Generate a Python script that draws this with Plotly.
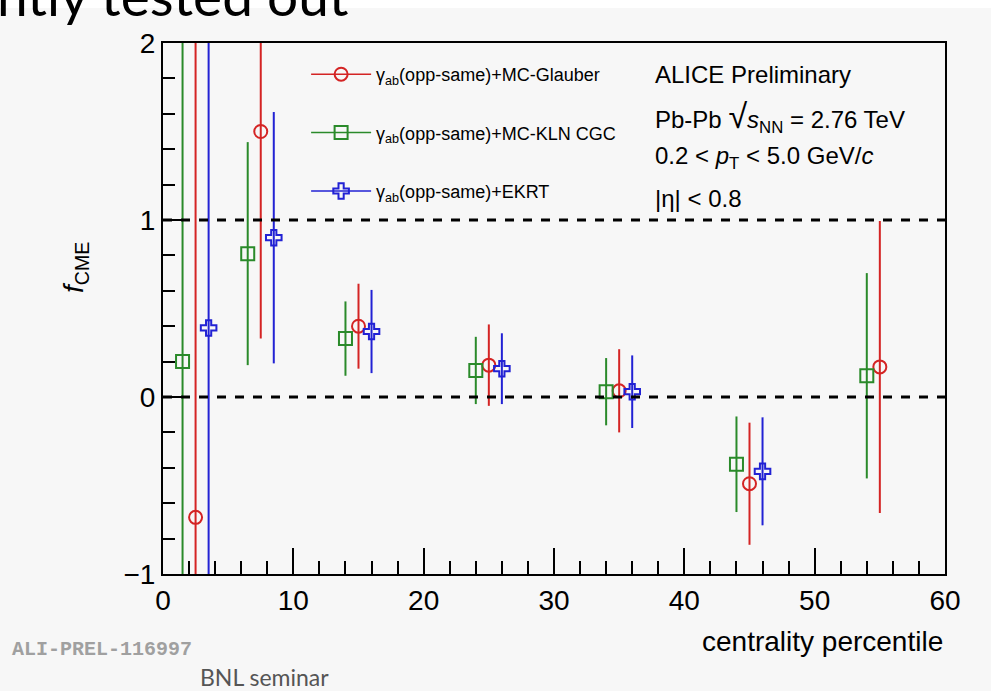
import plotly.graph_objects as go

# ---- data ----
cent_glauber = [2.5, 7.5, 15, 25, 35, 45, 55]
f_glauber = [-0.68, 1.50, 0.40, 0.18, 0.035, -0.49, 0.17]
err_glauber = [3.0, 1.17, 0.24, 0.23, 0.235, 0.345, 0.825]

cent_kln = [1.5, 6.5, 14, 24, 34, 44, 54]
f_kln = [0.20, 0.81, 0.33, 0.15, 0.03, -0.38, 0.12]
err_kln = [2.5, 0.63, 0.21, 0.19, 0.19, 0.27, 0.58]

cent_ekrt = [3.5, 8.5, 16, 26, 36, 46]
f_ekrt = [0.39, 0.90, 0.37, 0.16, 0.03, -0.42]
err_ekrt = [2.5, 0.71, 0.235, 0.20, 0.205, 0.305]

names = ["γ<sub>ab</sub>(opp-same)+MC-Glauber",
         "γ<sub>ab</sub>(opp-same)+MC-KLN CGC",
         "γ<sub>ab</sub>(opp-same)+EKRT"]
colors = ["#d42424", "#2a8a2a", "#2222d4"]
symbols = ["circle-open", "square-open", "cross-open"]

x_ticks = [0, 10, 20, 30, 40, 50, 60]
y_ticks = [-1, 0, 1, 2]
ref_lines = [0, 1]

FONT = "Liberation Sans, Arial, sans-serif"
BG = "#f7f7f7"

fig = go.Figure()

series = [(cent_glauber, f_glauber, err_glauber),
          (cent_kln, f_kln, err_kln),
          (cent_ekrt, f_ekrt, err_ekrt)]

for i, (xs, ys, es) in enumerate(series):
    fig.add_trace(go.Scatter(
        x=xs, y=ys, mode="markers", showlegend=False,
        marker=dict(symbol=symbols[i], size=13, color=colors[i],
                    line=dict(width=2, color=colors[i])),
        error_y=dict(type="data", array=es, visible=True,
                     color=colors[i], thickness=2, width=0),
    ))

# legend entries (line through marker, like ROOT "lpe")
for i in range(3):
    fig.add_trace(go.Scatter(
        x=[None], y=[None], mode="lines+markers", name=names[i],
        legendgroup=str(i),
        line=dict(color=colors[i], width=1.5),
        marker=dict(symbol=symbols[i], size=13, color=colors[i],
                    line=dict(width=2, color=colors[i])),
    ))

for yv in ref_lines:
    fig.add_hline(y=yv, line=dict(color="black", width=3, dash="dash"))

W, H = 991, 691
L, R, T, B = 163, 945, 43, 574
def px(x):
    return (x - L) / (R - L)
def py(y):
    return (B - y) / (B - T)

fig.update_layout(
    width=W, height=H,
    margin=dict(l=L, r=W - R, t=T, b=H - B),
    paper_bgcolor=BG, plot_bgcolor=BG,
    font=dict(family=FONT, color="black"),
    showlegend=True,
    legend=dict(x=0.183, y=py(56), xanchor="left", yanchor="top",
                bgcolor="rgba(0,0,0,0)", font=dict(size=18, family=FONT),
                tracegroupgap=32, itemwidth=60),
    xaxis=dict(range=[0, 60], tickvals=x_ticks, ticks="inside", ticklen=26,
               tickwidth=1.5, tickcolor="black",
               minor=dict(dtick=2, ticks="inside", ticklen=13, tickwidth=1.5,
                          tickcolor="black"),
               showgrid=False, zeroline=False, showline=True, linecolor="black",
               linewidth=2, mirror=True,
               tickfont=dict(size=28, family=FONT)),
    yaxis=dict(range=[-1, 2], tickvals=y_ticks, ticks="inside", ticklen=26,
               tickwidth=1.5, tickcolor="black",
               minor=dict(dtick=0.2, ticks="inside", ticklen=12, tickwidth=1.5,
                          tickcolor="black"),
               showgrid=False, zeroline=False, showline=True, linecolor="black",
               linewidth=2, mirror=True,
               tickfont=dict(size=28, family=FONT)),
)

# white slide strip at the very top
fig.add_shape(type="rect", xref="paper", yref="paper", x0=px(0), x1=px(W),
              y0=py(8), y1=py(0), fillcolor="white", line=dict(width=0), layer="below")

ann = [
    dict(text="ALICE Preliminary", x=653, y=75),
    dict(text="Pb-Pb <span style='font-size:34px'>√</span><i>s</i><sub>NN</sub> = 2.76 TeV", x=653, y=117),
    dict(text="0.2 &lt; <i>p</i><sub>T</sub> &lt; 5.0 GeV/<i>c</i>", x=653, y=157),
    dict(text="|η| &lt; 0.8", x=653, y=199),
]
for a in ann:
    fig.add_annotation(text=a["text"], xref="paper", yref="paper",
                       x=px(a["x"]), y=py(a["y"]), xanchor="left", yanchor="middle",
                       showarrow=False, font=dict(size=24, family=FONT))

# axis titles
fig.add_annotation(text="centrality percentile", xref="paper", yref="paper",
                   x=px(945), y=py(641), xanchor="right", yanchor="middle",
                   showarrow=False, font=dict(size=28, family=FONT))
fig.add_annotation(text="<i>f</i><sub>CME</sub>", xref="paper", yref="paper",
                   x=px(75), y=py(268), xanchor="center", yanchor="middle",
                   textangle=-90, showarrow=False, font=dict(size=28, family=FONT))

# slide decorations
fig.add_annotation(text="<b>ALI-PREL-116997</b>", xref="paper", yref="paper",
                   x=px(10), y=py(649), xanchor="left", yanchor="middle",
                   showarrow=False,
                   font=dict(size=20, family="Liberation Mono, monospace", color="#a0a0a0"))
fig.add_annotation(text="BNL seminar", xref="paper", yref="paper",
                   x=px(198), y=py(677), xanchor="left", yanchor="middle",
                   showarrow=False, font=dict(size=23, family="Lato, sans-serif", color="#555555"))
fig.add_annotation(text="ntly tested out", xref="paper", yref="paper",
                   x=px(-5), y=py(30), xanchor="left", yanchor="bottom",
                   showarrow=False, font=dict(size=55, family="Lato, sans-serif", color="black"))

fig.write_html("out.html")
